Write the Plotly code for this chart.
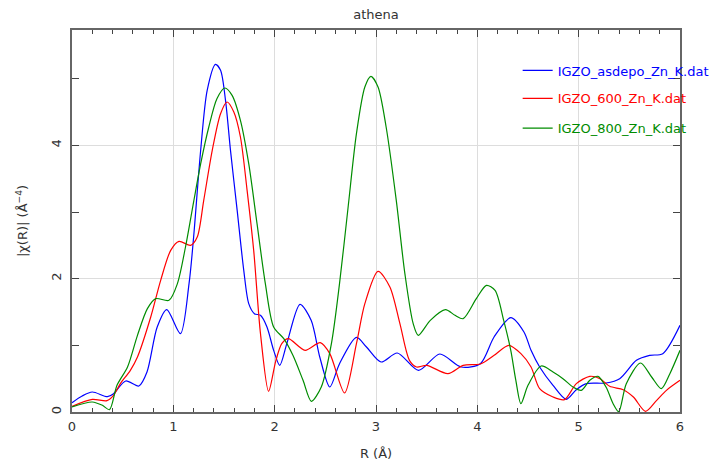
import plotly.graph_objects as go

# ---------------- data ----------------
r_asdepo = [0, 0.1, 0.2, 0.35, 0.41, 0.53, 0.66, 0.74, 0.84, 0.935, 1.07, 1.155, 1.2, 1.27, 1.334,
            1.416, 1.466, 1.515, 1.564, 1.63, 1.695, 1.744, 1.80, 1.86, 1.924, 1.99, 2.05, 2.12,
            2.25, 2.36, 2.445, 2.544, 2.64, 2.807, 2.906, 3.05, 3.21, 3.42, 3.63, 3.84, 4.03,
            4.165, 4.33, 4.46, 4.53, 4.615, 4.747, 4.878, 4.977, 5.076, 5.27, 5.405, 5.57, 5.70,
            5.83, 6.0]
chi_asdepo = [0.14, 0.24, 0.30, 0.23, 0.275, 0.465, 0.39, 0.60, 1.27, 1.535, 1.175, 1.925, 2.62,
              3.93, 4.825, 5.215, 5.125, 4.675, 3.925, 3.025, 2.125, 1.625, 1.475, 1.45, 1.275,
              0.925, 0.70, 1.025, 1.615, 1.375, 0.825, 0.375, 0.725, 1.12, 0.975, 0.75, 0.885,
              0.625, 0.87, 0.675, 0.725, 1.125, 1.415, 1.20, 0.925, 0.675, 0.40, 0.19, 0.335,
              0.425, 0.435, 0.50, 0.775, 0.85, 0.875, 1.30]

r_600 = [0, 0.2, 0.345, 0.41, 0.477, 0.576, 0.646, 0.777, 0.875, 0.974, 1.056, 1.17, 1.236, 1.30,
         1.384, 1.466, 1.53, 1.597, 1.662, 1.728, 1.793, 1.86, 1.94, 2.01, 2.07, 2.135, 2.30,
         2.45, 2.544, 2.69, 2.807, 2.89, 3.02, 3.137, 3.236, 3.33, 3.40, 3.50, 3.71, 3.86, 4.03,
         4.166, 4.31, 4.43, 4.53, 4.615, 4.747, 4.86, 4.977, 5.11, 5.21, 5.306, 5.44, 5.54, 5.66,
         5.77, 5.866, 6.0]
chi_600 = [0.085, 0.19, 0.17, 0.25, 0.425, 0.625, 0.825, 1.425, 1.975, 2.425, 2.56, 2.50, 2.625,
           3.175, 3.925, 4.475, 4.65, 4.50, 4.125, 3.325, 2.425, 1.175, 0.31, 0.76, 1.025, 1.10,
           0.925, 1.04, 0.875, 0.285, 1.025, 1.625, 2.11, 1.875, 1.325, 0.775, 0.675, 0.70,
           0.575, 0.70, 0.72, 0.85, 1.0, 0.875, 0.675, 0.35, 0.225, 0.185, 0.425, 0.535, 0.50,
           0.385, 0.335, 0.225, 0.01, 0.175, 0.325, 0.475]

r_800 = [0, 0.2, 0.30, 0.37, 0.444, 0.548, 0.646, 0.744, 0.826, 0.957, 1.04, 1.12, 1.203, 1.27,
         1.35, 1.43, 1.508, 1.58, 1.662, 1.744, 1.826, 1.908, 1.99, 2.09, 2.18, 2.28, 2.362,
         2.46, 2.56, 2.64, 2.725, 2.807, 2.89, 2.95, 3.02, 3.10, 3.20, 3.285, 3.367, 3.417,
         3.536, 3.685, 3.78, 3.86, 3.99, 4.09, 4.175, 4.26, 4.33, 4.38, 4.43, 4.50, 4.63, 4.747,
         4.845, 4.944, 5.026, 5.11, 5.19, 5.27, 5.34, 5.395, 5.47, 5.61, 5.72, 5.816, 5.90, 6.0]
chi_800 = [0.075, 0.15, 0.10, 0.035, 0.40, 0.675, 1.15, 1.55, 1.70, 1.675, 1.925, 2.475, 3.175,
           3.725, 4.275, 4.70, 4.86, 4.75, 4.375, 3.725, 2.825, 1.925, 1.275, 1.10, 0.85, 0.475,
           0.16, 0.375, 1.025, 1.925, 3.075, 4.175, 4.875, 5.035, 4.875, 4.275, 3.175, 2.075,
           1.325, 1.15, 1.375, 1.535, 1.45, 1.40, 1.70, 1.90, 1.825, 1.375, 0.925, 0.475, 0.125,
           0.40, 0.69, 0.60, 0.50, 0.375, 0.325, 0.475, 0.535, 0.375, 0.125, 0.005, 0.425, 0.735,
           0.525, 0.35, 0.575, 0.925]

series_names = ["IGZO_asdepo_Zn_K.dat", "IGZO_600_Zn_K.dat", "IGZO_800_Zn_K.dat"]
series_colors = ["#0000ff", "#ff0000", "#008c00"]
x_ticks = [0, 1, 2, 3, 4, 5, 6]
y_ticks = [0, 2, 4]

# ---------------- figure ----------------
FONT = "DejaVu Sans"
TXT = "#333333"
FIG_W, FIG_H = 719, 453  # page body adds an 8px offset

fig = go.Figure()
legends = ["legend", "legend2", "legend3"]
for xs, ys, name, col, lg in zip([r_asdepo, r_600, r_800], [chi_asdepo, chi_600, chi_800],
                                 series_names, series_colors, legends):
    fig.add_trace(go.Scatter(x=xs, y=ys, mode="lines", name=name,
                             line=dict(color=col, width=1.2, shape="spline", smoothing=0.8),
                             legend=lg))

axis_common = dict(showline=True, linecolor="#666666", linewidth=1.5, mirror="ticks",
                   ticks="inside", tickcolor="#444444", ticklen=7, tickwidth=1,
                   showgrid=True, gridcolor="#dddddd", gridwidth=1, zeroline=False,
                   automargin=False,
                   tickfont=dict(family=FONT, size=13, color=TXT))

fig.update_xaxes(range=[0, 6], tickvals=x_ticks, ticklabelstandoff=2,
                 minor=dict(dtick=0.2, ticks="inside", ticklen=4, tickcolor="#444444",
                            showgrid=False),
                 title=dict(text="R (Å)", font=dict(family=FONT, size=13, color=TXT), standoff=22),
                 **axis_common)
fig.update_yaxes(range=[0, 5.73], tickvals=y_ticks, tickangle=-90, ticklabelstandoff=4,
                 minor=dict(dtick=1, ticks="inside", ticklen=7, tickcolor="#444444",
                            showgrid=False),
                 title=dict(text="|χ(R)| (Å<sup>−4</sup>)",
                            font=dict(family=FONT, size=13, color=TXT), standoff=18),
                 **axis_common)

leg_common = dict(xref="paper", yref="paper", xanchor="left", yanchor="middle",
                  bgcolor="rgba(0,0,0,0)", borderwidth=0, itemwidth=30)
leg_y = [0.894, 0.821, 0.743]
layout_legends = {}
for lg, col, yy in zip(legends, series_colors, leg_y):
    layout_legends[lg] = dict(x=0.733, y=yy, font=dict(family=FONT, size=13, color=col),
                              **leg_common)

fig.update_layout(
    width=FIG_W, height=FIG_H,
    margin=dict(l=64, r=47, t=22, b=49, autoexpand=False),
    paper_bgcolor="white", plot_bgcolor="white",
    title=dict(text="athena", x=0.5, xref="paper", y=1 - 6 / FIG_H, yref="container",
               yanchor="middle", font=dict(family=FONT, size=13, color=TXT)),
    showlegend=True,
    **layout_legends,
)

fig.write_html("out.html")
